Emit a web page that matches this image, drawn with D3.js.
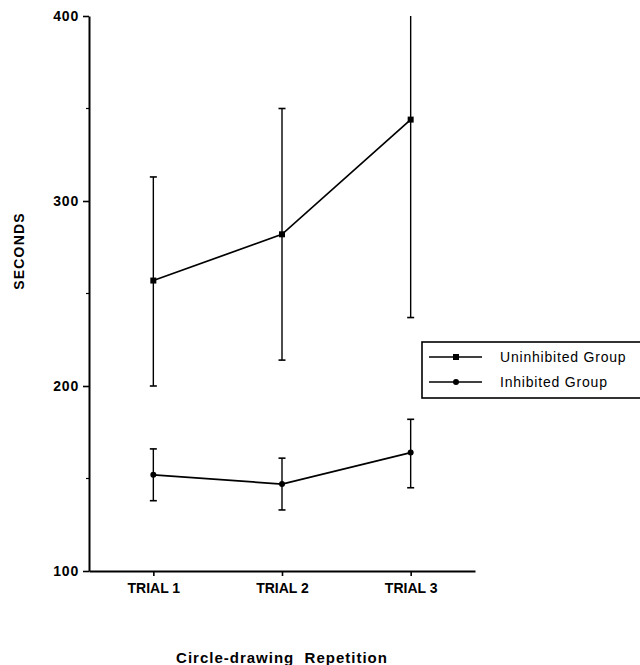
<!DOCTYPE html>
<html>
<head>
<meta charset="utf-8">
<script src="https://cdn.jsdelivr.net/npm/d3@7.9.0/dist/d3.min.js"></script>
<style>
  body { margin: 0; background: #fff; }
  svg { display: block; font-family: "Liberation Sans", Arial, sans-serif; }
</style>
</head>
<body>
<div id="chart"></div>
<script>
// ---------- Data ----------
const trials = ["TRIAL 1", "TRIAL 2", "TRIAL 3"];
const yTicks = [100, 200, 300, 400];
const yMinorTicks = [150, 250, 350];

const uninhibitedMean = [257, 282, 344];
const uninhibitedLow = [200, 214, 237];
const uninhibitedHigh = [313, 350, 400];

const inhibitedMean = [152, 147, 164];
const inhibitedLow = [138, 133, 145];
const inhibitedHigh = [166, 161, 182];

const groupNames = ["Uninhibited Group", "Inhibited Group"];

// ---------- Build series ----------
const series = [
  { name: groupNames[0], marker: "square", mean: uninhibitedMean, low: uninhibitedLow, high: uninhibitedHigh },
  { name: groupNames[1], marker: "circle", mean: inhibitedMean, low: inhibitedLow, high: inhibitedHigh }
].map(s => ({
  ...s,
  points: trials.map((t, i) => ({ trial: t, mean: s.mean[i], low: s.low[i], high: s.high[i] }))
}));

const width = 640, height = 665;

const svg = d3.select("#chart")
  .append("svg")
  .attr("width", width)
  .attr("height", height);

const x = d3.scalePoint()
  .domain(trials)
  .range([89, 475])
  .padding(0.5);

const y = d3.scaleLinear()
  .domain([100, 400])
  .range([571, 16]);

// ---------- Axes ----------
const yAxis = svg.append("g")
  .attr("transform", "translate(89,0)")
  .call(d3.axisLeft(y).tickValues(yTicks).tickSize(6).tickSizeOuter(0).tickPadding(4));

yAxis.select(".domain").attr("stroke-width", 2);
yAxis.selectAll(".tick line").attr("stroke-width", 1.6);
yAxis.selectAll(".tick text")
  .attr("font-size", 14)
  .attr("font-weight", "bold")
  .attr("letter-spacing", 0.8)
  .attr("fill", "#000");

svg.append("g")
  .selectAll("line")
  .data(yMinorTicks)
  .join("line")
  .attr("x1", 86).attr("x2", 89)
  .attr("y1", d => y(d)).attr("y2", d => y(d))
  .attr("stroke", "#000")
  .attr("stroke-width", 1.2);

const xAxis = svg.append("g")
  .attr("transform", "translate(0,571)")
  .call(d3.axisBottom(x).tickSize(5).tickSizeOuter(0).tickPadding(7));

xAxis.select(".domain").attr("stroke-width", 2);
xAxis.selectAll(".tick line").attr("stroke-width", 1.6);
xAxis.selectAll(".tick text")
  .attr("font-size", 14)
  .attr("font-weight", "bold")
  .attr("fill", "#000");

// axis titles
svg.append("text")
  .attr("transform", `translate(24,251) rotate(-90)`)
  .attr("text-anchor", "middle")
  .attr("font-size", 14)
  .attr("font-weight", "bold")
  .attr("letter-spacing", 1.2)
  .text("SECONDS");

svg.append("text")
  .attr("x", 282)
  .attr("y", 663)
  .attr("text-anchor", "middle")
  .attr("font-size", 15)
  .attr("font-weight", "bold")
  .attr("letter-spacing", 1)
  .attr("xml:space", "preserve")
  .text("Circle-drawing  Repetition");

// ---------- Series ----------
const line = d3.line().x(d => x(d.trial)).y(d => y(d.mean));

const groups = svg.append("g")
  .selectAll("g")
  .data(series)
  .join("g");

// error bars
groups.each(function (s) {
  const g = d3.select(this);
  const bars = g.selectAll(".err").data(s.points).join("g").attr("class", "err");
  bars.append("line")
    .attr("x1", d => x(d.trial)).attr("x2", d => x(d.trial))
    .attr("y1", d => y(d.low)).attr("y2", d => y(d.high))
    .attr("stroke", "#000").attr("stroke-width", 1.4);
  bars.filter(d => d.high < 400).append("line")
    .attr("x1", d => x(d.trial) - 3.5).attr("x2", d => x(d.trial) + 3.5)
    .attr("y1", d => y(d.high)).attr("y2", d => y(d.high))
    .attr("stroke", "#000").attr("stroke-width", 1.6);
  bars.append("line")
    .attr("x1", d => x(d.trial) - 3.5).attr("x2", d => x(d.trial) + 3.5)
    .attr("y1", d => y(d.low)).attr("y2", d => y(d.low))
    .attr("stroke", "#000").attr("stroke-width", 1.6);
});

groups.append("path")
  .attr("d", s => line(s.points))
  .attr("fill", "none")
  .attr("stroke", "#000")
  .attr("stroke-width", 1.7);

function drawMarker(sel, type, cx, cy) {
  if (type === "square") {
    sel.append("rect")
      .attr("x", cx - 3).attr("y", cy - 3)
      .attr("width", 6).attr("height", 6)
      .attr("fill", "#000");
  } else {
    sel.append("circle")
      .attr("cx", cx).attr("cy", cy).attr("r", 3)
      .attr("fill", "#000");
  }
}

groups.each(function (s) {
  const g = d3.select(this);
  s.points.forEach(p => drawMarker(g, s.marker, x(p.trial), y(p.mean)));
});

// ---------- Legend ----------
const legend = svg.append("g");

legend.append("rect")
  .attr("x", 422).attr("y", 342)
  .attr("width", 230).attr("height", 56)
  .attr("fill", "#fff")
  .attr("stroke", "#000")
  .attr("stroke-width", 1.6);

const legendRows = legend.selectAll(".row")
  .data(series)
  .join("g")
  .attr("class", "row")
  .attr("transform", (d, i) => `translate(0,${357 + i * 25})`);

legendRows.append("line")
  .attr("x1", 429).attr("x2", 482)
  .attr("y1", 0).attr("y2", 0)
  .attr("stroke", "#000")
  .attr("stroke-width", 1.4);

legendRows.each(function (s) {
  drawMarker(d3.select(this), s.marker, 456, 0);
});

legendRows.append("text")
  .attr("x", 500)
  .attr("y", 5)
  .attr("font-size", 14)
  .attr("letter-spacing", 0.8)
  .text(d => d.name);
</script>
</body>
</html>
